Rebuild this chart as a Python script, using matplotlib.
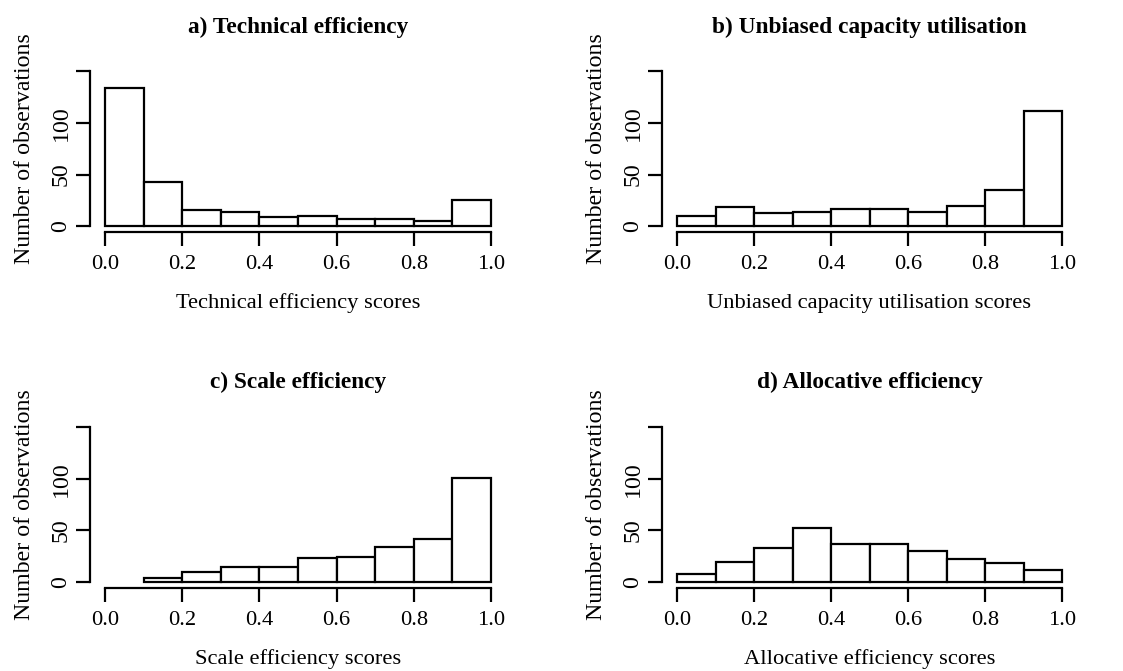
import numpy as np
import matplotlib
matplotlib.use("Agg")
import matplotlib.pyplot as plt

plt.rcParams["font.family"] = ["Liberation Serif", "DejaVu Serif"]

bin_edges = np.round(np.arange(0.0, 1.01, 0.1), 1)

technical = [134, 43, 16, 14, 9, 10, 7, 7, 5, 25]
capacity = [10, 18, 13, 14, 17, 17, 14, 19, 35, 112]
scale = [0, 4, 10, 15, 15, 23, 24, 34, 42, 101]
allocative = [8, 19, 33, 52, 37, 37, 30, 22, 18, 12]

titles = ["a) Technical efficiency", "b) Unbiased capacity utilisation",
          "c) Scale efficiency", "d) Allocative efficiency"]
xlabels = ["Technical efficiency scores", "Unbiased capacity utilisation scores",
           "Scale efficiency scores", "Allocative efficiency scores"]
ylabel = "Number of observations"
xticks = [0.0, 0.2, 0.4, 0.6, 0.8, 1.0]
yticks = [0, 50, 100]
ymax = 150

W, H = 1123, 671
fig = plt.figure(figsize=(W / 100, H / 100), dpi=100)

# panel boxes in pixels: left, top, right, bottom
boxes = [
    (89.6, 65.3, 506.4, 232.2),
    (661.6, 65.3, 1077.4, 232.2),
    (89.6, 420.8, 506.4, 588.2),
    (661.6, 420.8, 1077.4, 588.2),
]

series = [technical, capacity, scale, allocative]
fs_h = 16.2   # horizontal text
fs_v = 17.2   # rotated text
lw = 1.6

for counts, title, xl, (l, t, r, b) in zip(series, titles, xlabels, boxes):
    ax = fig.add_axes([l / W, 1 - b / H, (r - l) / W, (b - t) / H])
    counts = np.asarray(counts)
    left = bin_edges[:-1]
    keep = counts > 0
    ax.bar(left[keep], counts[keep], width=0.1, align="edge",
           facecolor="white", edgecolor="black", linewidth=lw)
    ax.set_xlim(-0.04, 1.04)
    ax.set_ylim(-0.04 * ymax, ymax * 1.04)
    for s in ["top", "right"]:
        ax.spines[s].set_visible(False)
    ax.spines["left"].set_bounds(0, ymax)
    ax.spines["bottom"].set_bounds(0, 1)
    ax.spines["left"].set_linewidth(lw)
    ax.spines["bottom"].set_linewidth(lw)
    ax.set_xticks(xticks)
    ax.set_xticklabels([f"{v:.1f}" for v in xticks])
    ax.set_yticks(yticks + [ymax])
    ax.set_yticklabels([str(v) for v in yticks] + [""])
    ax.tick_params(axis="both", direction="out", length=10, width=lw)
    ax.tick_params(axis="x", labelsize=fs_h, pad=6.5)
    ax.tick_params(axis="y", labelsize=fs_v, pad=3)
    for lab in ax.get_yticklabels():
        lab.set_rotation(90)
        lab.set_verticalalignment("center")
    ax.set_title(title, fontsize=16.8, fontweight="bold", pad=23.5)
    ax.set_xlabel(xl, fontsize=fs_h, labelpad=14)
    ax.set_ylabel(ylabel, fontsize=fs_v, labelpad=11)

fig.savefig("out.png", dpi=100, facecolor="white")
